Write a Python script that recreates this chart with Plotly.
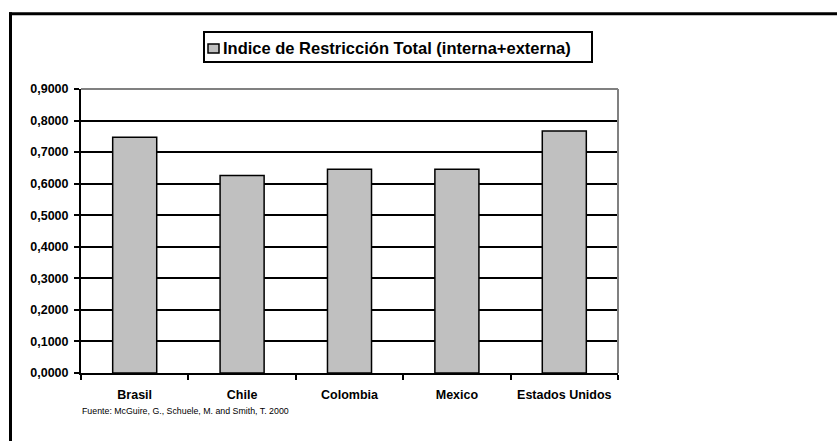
import plotly.graph_objects as go

# Total restriction index by country
countries = ["Brasil", "Chile", "Colombia", "Mexico", "Estados Unidos"]
indice_total = [0.747, 0.626, 0.646, 0.646, 0.767]
series_name = "Indice de Restricción Total (interna+externa)"
y_ticks = [0.0, 0.1, 0.2, 0.3, 0.4, 0.5, 0.6, 0.7, 0.8, 0.9]
fuente = "Fuente: McGuire, G., Schuele, M. and Smith, T. 2000"

W, H = 837, 441
L, R, T, B = 81, 618, 89, 373  # plot area in pixels

def px(x):
    return (x - L) / (R - L)

def py(y):
    return (B - y) / (B - T)

FONT = "Liberation Sans, Arial, sans-serif"
BAR_FILL = "#C0C0C0"

fig = go.Figure(
    go.Bar(
        x=countries,
        y=indice_total,
        name=series_name,
        marker=dict(color=BAR_FILL, line=dict(color="black", width=1.5)),
        width=0.41,
        showlegend=False,
    )
)

fig.update_layout(
    width=W,
    height=H,
    margin=dict(l=L, r=W - R, t=T, b=H - B),
    paper_bgcolor="white",
    plot_bgcolor="white",
    separators=",.",
    font=dict(family=FONT, color="black"),
    showlegend=False,
)

fig.update_yaxes(
    range=[0, 0.9],
    tickvals=y_ticks,
    tickformat=".4f",
    tickfont=dict(family=FONT, size=12.5, color="black", weight="bold"),
    showgrid=True,
    gridcolor="black",
    gridwidth=1.5,
    showline=True,
    linecolor="black",
    linewidth=2,
    ticks="outside",
    ticklen=5,
    tickwidth=1.5,
    tickcolor="black",
    zeroline=False,
    ticklabelstandoff=3,
)

fig.update_xaxes(
    type="category",
    tickson="boundaries",
    tickfont=dict(family=FONT, size=12.5, color="black", weight="bold"),
    showline=True,
    linecolor="black",
    linewidth=2,
    ticks="outside",
    ticklen=5,
    tickwidth=1.5,
    tickcolor="black",
    showgrid=False,
    ticklabelstandoff=9,
)

shapes = [
    # plot-area border (top and right) in gray
    dict(type="line", xref="paper", yref="paper", x0=0, x1=1, y0=1, y1=1,
         line=dict(color="#808080", width=2)),
    dict(type="line", xref="paper", yref="paper", x0=1, x1=1, y0=0, y1=1,
         line=dict(color="#808080", width=2)),
    # chart frame (left and top edges)
    dict(type="line", xref="paper", yref="paper", x0=px(10.5), x1=px(10.5),
         y0=py(12.3), y1=py(445), line=dict(color="black", width=3)),
    dict(type="line", xref="paper", yref="paper", x0=px(9), x1=px(840),
         y0=py(13.8), y1=py(13.8), line=dict(color="black", width=3)),
    # legend box and swatch
    dict(type="rect", xref="paper", yref="paper", x0=px(204), x1=px(592),
         y0=py(62), y1=py(32), line=dict(color="black", width=2),
         fillcolor="white"),
    dict(type="rect", xref="paper", yref="paper", x0=px(208), x1=px(219),
         y0=py(53), y1=py(44), line=dict(color="black", width=1.5),
         fillcolor=BAR_FILL),
]
fig.update_layout(shapes=shapes)

# legend label
fig.add_annotation(
    text=series_name,
    xref="paper", yref="paper",
    x=px(221), y=py(47.5),
    xanchor="left", yanchor="middle",
    showarrow=False,
    font=dict(family=FONT, size=16.5, color="black", weight="bold"),
)

# source note
fig.add_annotation(
    text=fuente,
    xref="paper", yref="paper",
    x=px(80), y=py(410.5),
    xanchor="left", yanchor="middle",
    showarrow=False,
    font=dict(family=FONT, size=8.8, color="black"),
)

fig.write_html("out.html")
